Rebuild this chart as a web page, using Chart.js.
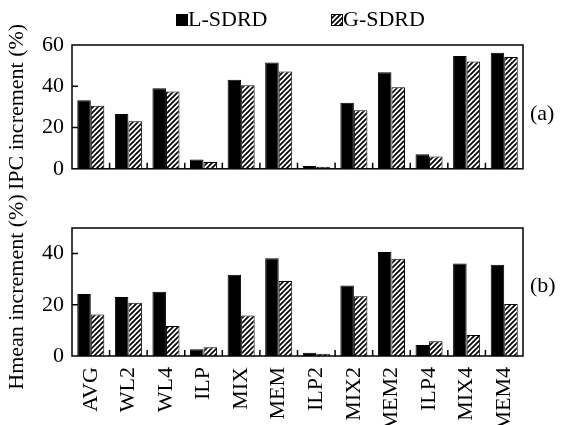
<!DOCTYPE html>
<html>
<head>
<meta charset="utf-8">
<script src="https://cdn.jsdelivr.net/npm/chart.js@4.4.1/dist/chart.umd.min.js"></script>
<style>
  body { margin: 0; background: #fff; }
  #wrap { position: relative; width: 561px; height: 425px; }
  .box { position: absolute; left: 0; width: 561px; }
</style>
</head>
<body>
<div id="wrap">
  <div class="box" style="top:0;height:190px"><canvas id="ipcChart"></canvas></div>
  <div class="box" style="top:190px;height:235px"><canvas id="hmeanChart"></canvas></div>
</div>
<script>
// benchmark groups
const categories = ['AVG', 'WL2', 'WL4', 'ILP', 'MIX', 'MEM', 'ILP2', 'MIX2', 'MEM2', 'ILP4', 'MIX4', 'MEM4'];
const seriesNames = ['L-SDRD', 'G-SDRD'];

// (a) IPC increment (%)
const ipcL = [33.2, 26.5, 39.0, 4.5, 43.1, 51.5, 1.4, 32.0, 46.8, 7.0, 54.7, 56.2];
const ipcG = [30.5, 23.0, 37.5, 3.3, 40.5, 47.2, 1.0, 28.4, 39.5, 6.0, 52.0, 54.2];

// (b) Hmean increment (%)
const hmL = [24.2, 23.0, 25.1, 2.6, 31.7, 38.2, 1.3, 27.5, 40.6, 4.3, 36.1, 35.6];
const hmG = [16.2, 20.8, 11.7, 3.4, 15.8, 29.3, 0.9, 23.3, 38.0, 5.8, 8.2, 20.3];

const ipcTicks = [0, 20, 40, 60];
const hmTicks = [0, 20, 40];

const FONT = 'Liberation Serif, Times New Roman, serif';
const FS = 22;

// hatch fill for G-SDRD
function makeHatch() {
    const c = document.createElement('canvas');
    c.width = 5; c.height = 5;
    const g = c.getContext('2d');
    g.fillStyle = '#fff';
    g.fillRect(0, 0, 5, 5);
    g.strokeStyle = '#000';
    g.lineWidth = 1.7;
    g.beginPath();
    g.moveTo(-1, 6); g.lineTo(6, -1);
    g.moveTo(-1, 1); g.lineTo(1, -1);
    g.moveTo(4, 6); g.lineTo(6, 4);
    g.stroke();
    return g.createPattern(c, 'repeat');
}
const hatch = makeHatch();

// frame, inward ticks, side tag and (optional) legend
const framePlugin = {
    id: 'frame',
    afterDraw(chart, args, opts) {
        const ctx = chart.ctx;
        const a = chart.chartArea;
        const x = chart.scales.x, y = chart.scales.y;
        ctx.save();
        ctx.strokeStyle = '#000';
        ctx.lineWidth = 1.5;
        ctx.strokeRect(a.left, a.top, a.right - a.left, a.bottom - a.top);
        ctx.beginPath();
        y.ticks.forEach(t => {
            if (t.value > y.min && t.value < y.max) {
                const py = y.getPixelForValue(t.value);
                ctx.moveTo(a.left, py); ctx.lineTo(a.left + 6, py);
            }
        });
        for (let i = 0; i < categories.length - 1; i++) {
            const px = (x.getPixelForValue(i) + x.getPixelForValue(i + 1)) / 2;
            ctx.moveTo(px, a.bottom); ctx.lineTo(px, a.bottom - 6);
        }
        ctx.stroke();

        ctx.fillStyle = '#000';
        ctx.font = FS + 'px ' + FONT;
        ctx.textBaseline = 'middle';
        ctx.textAlign = 'left';
        ctx.fillText(opts.tag, 530, opts.tagY);

        if (opts.legend) {
            const items = opts.legend;
            chart.data.datasets.forEach((ds, i) => {
                const it = items[i];
                ctx.fillStyle = ds.backgroundColor;
                ctx.fillRect(it.x, opts.legendY - 6, 12, 12);
                ctx.lineWidth = 1;
                ctx.strokeRect(it.x + 0.5, opts.legendY - 5.5, 11, 11);
                ctx.fillStyle = '#000';
                ctx.fillText(ds.label, it.x + 12, opts.legendY);
            });
        }
        ctx.restore();
    }
};

function makeChart(id, lData, gData, max, ticks, title, xHeight, padTop, showLabels, frameOpts) {
    return new Chart(document.getElementById(id), {
        type: 'bar',
        data: {
            labels: categories,
            datasets: [
                { label: seriesNames[0], data: lData, backgroundColor: '#000', borderColor: '#000', borderWidth: 1 },
                { label: seriesNames[1], data: gData, backgroundColor: hatch, borderColor: '#000', borderWidth: 1 }
            ]
        },
        options: {
            responsive: true,
            maintainAspectRatio: false,
            animation: false,
            layout: { padding: { top: padTop, right: 38, left: 0, bottom: 0 } },
            datasets: { bar: { categoryPercentage: 0.72, barPercentage: 1 } },
            plugins: {
                legend: { display: false },
                tooltip: { enabled: false },
                frame: frameOpts
            },
            scales: {
                x: {
                    grid: { display: false, drawTicks: false },
                    border: { display: false },
                    ticks: {
                        display: showLabels,
                        minRotation: 90, maxRotation: 90,
                        padding: 11,
                        color: '#000',
                        font: { family: FONT, size: FS }
                    },
                    afterFit(s) { s.height = xHeight; }
                },
                y: {
                    min: 0, max: max,
                    grid: { display: false, drawTicks: false },
                    border: { display: false },
                    afterBuildTicks(s) { s.ticks = ticks.map(v => ({ value: v })); },
                    ticks: {
                        padding: 8,
                        color: '#000',
                        font: { family: FONT, size: FS }
                    },
                    title: {
                        display: true,
                        text: title,
                        color: '#000',
                        padding: { top: 4, bottom: 0 },
                        font: { family: FONT, size: FS }
                    },
                    afterFit(s) { s.width = 72; }
                }
            }
        },
        plugins: [framePlugin]
    });
}

makeChart('ipcChart', ipcL, ipcG, 60, ipcTicks, 'IPC increment (%)', 19, 45, false, {
    tag: '(a)', tagY: 114,
    legendY: 20,
    legend: [{ x: 176 }, { x: 331 }]
});
makeChart('hmeanChart', hmL, hmG, 50, hmTicks, 'Hmean increment (%)', 69, 38, true, {
    tag: '(b)', tagY: 96
});
</script>
</body>
</html>
